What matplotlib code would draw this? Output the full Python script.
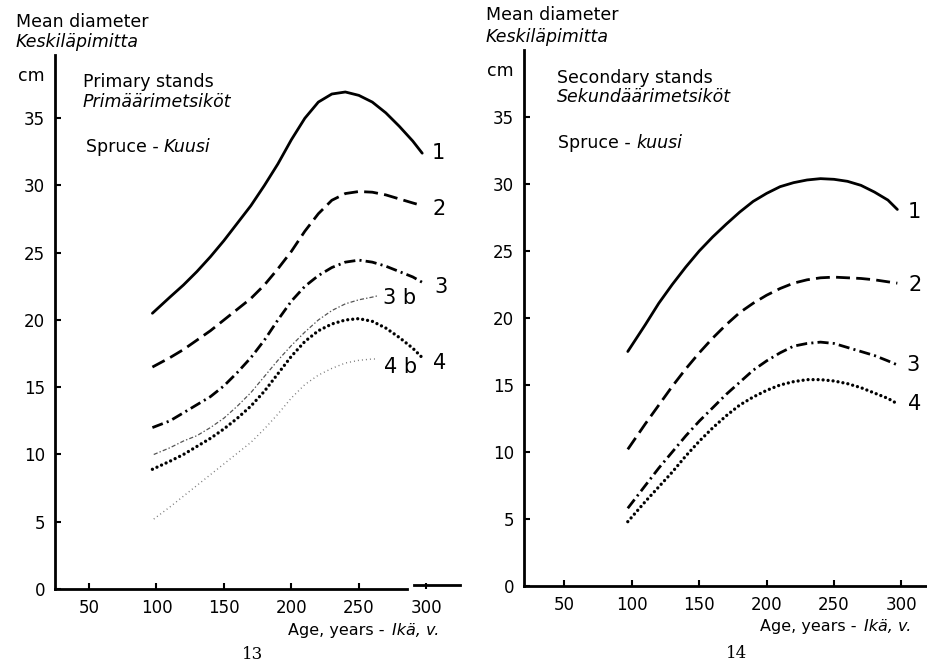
import numpy as np
import matplotlib
matplotlib.use('Agg')
import matplotlib.pyplot as plt

plt.rcParams['font.family'] = ['DejaVu Sans']
plt.rcParams['lines.scale_dashes'] = False

# ---- data (age in years, mean diameter in cm) ----
ages = [97, 110, 120, 130, 140, 150, 160, 170, 180, 190, 200,
        210, 220, 230, 240, 250, 260, 270, 280, 290, 297]

# figure 13, primary stands
prim_1 = [20.5, 21.7, 22.6, 23.6, 24.7, 25.9, 27.2, 28.5, 30.0, 31.6, 33.4,
          35.0, 36.2, 36.8, 36.95, 36.7, 36.2, 35.4, 34.4, 33.3, 32.4]
prim_2 = [16.5, 17.2, 17.8, 18.5, 19.2, 20.0, 20.8, 21.6, 22.6, 23.8, 25.1,
          26.6, 27.9, 28.9, 29.4, 29.55, 29.5, 29.3, 29.0, 28.7, 28.5]
prim_3 = [12.0, 12.5, 13.1, 13.7, 14.3, 15.1, 16.1, 17.2, 18.5, 20.0, 21.4,
          22.5, 23.3, 23.9, 24.3, 24.45, 24.3, 24.0, 23.6, 23.2, 22.8]
prim_4 = [8.9, 9.5, 10.0, 10.6, 11.2, 11.9, 12.7, 13.6, 14.7, 16.0, 17.3,
          18.4, 19.2, 19.7, 20.0, 20.1, 19.9, 19.4, 18.7, 17.9, 17.2]

ages_b = [98, 110, 120, 130, 140, 150, 160, 170, 180, 190, 200,
          210, 220, 230, 240, 250, 260, 264]
prim_3b = [10.0, 10.5, 11.0, 11.4, 12.0, 12.7, 13.6, 14.6, 15.8, 17.0, 18.1,
           19.1, 20.0, 20.7, 21.2, 21.5, 21.7, 21.8]
prim_4b = [5.2, 6.1, 6.9, 7.7, 8.5, 9.3, 10.1, 10.9, 11.9, 13.0, 14.2,
           15.2, 15.9, 16.4, 16.8, 17.0, 17.1, 17.1]

# figure 14, secondary stands
sec_1 = [17.5, 19.5, 21.1, 22.5, 23.8, 25.0, 26.05, 27.0, 27.9, 28.7, 29.3,
         29.8, 30.1, 30.3, 30.4, 30.35, 30.2, 29.9, 29.4, 28.8, 28.1]
sec_2 = [10.2, 12.1, 13.5, 14.9, 16.2, 17.4, 18.5, 19.5, 20.4, 21.1, 21.7,
         22.2, 22.6, 22.85, 23.0, 23.05, 23.0, 22.95, 22.85, 22.7, 22.6]
sec_3 = [5.8, 7.5, 8.8, 10.0, 11.2, 12.3, 13.3, 14.3, 15.2, 16.1, 16.8,
         17.4, 17.9, 18.1, 18.2, 18.1, 17.8, 17.5, 17.2, 16.8, 16.5]
sec_4 = [4.8, 6.3, 7.4, 8.5, 9.7, 10.8, 11.8, 12.7, 13.5, 14.1, 14.6,
         15.0, 15.25, 15.4, 15.4, 15.3, 15.1, 14.8, 14.4, 14.0, 13.6]

x_ticks = [50, 100, 150, 200, 250, 300]
y_ticks = [0, 5, 10, 15, 20, 25, 30, 35]

W, H = 927, 663
fig = plt.figure(figsize=(W / 100, H / 100), dpi=100)
FS = 12.5


def px_text(x, y, s, **kw):
    """Place figure text with pixel coordinates (origin top-left)."""
    fig.text(x / W, 1 - y / H, s, **kw)


def setup_axes(ax, xlim, ylim):
    ax.set_xlim(*xlim)
    ax.set_ylim(*ylim)
    for side in ('top', 'right'):
        ax.spines[side].set_visible(False)
    for side in ('left', 'bottom'):
        ax.spines[side].set_linewidth(2.0)
    ax.set_xticks(x_ticks)
    ax.set_yticks(y_ticks)
    ax.tick_params(direction='in', length=4, width=1.5, labelsize=12, pad=7)
    ax.patch.set_alpha(0)


styles = {
    '1': dict(color='black', lw=2.0, solid_capstyle='round'),
    '2': dict(color='black', lw=2.0, dashes=(10, 4.5)),
    '3': dict(color='black', lw=2.0, dashes=(8, 3, 1.5, 3)),
    '3b': dict(color='#555555', lw=0.9, dashes=(3, 1.5, 1, 1.5)),
    '4': dict(color='black', lw=2.4, dashes=(0.01, 3.6), dash_capstyle='round'),
    '4b': dict(color='#777777', lw=1.0, dashes=(0.7, 2.2)),
}


def curve(ax, x, y, key, label, dx, dy):
    ax.plot(x, y, **styles[key])
    ax.annotate(label, (x[-1], y[-1]), xytext=(dx, dy),
                textcoords='offset pixels', ha='left', va='center',
                fontsize=15)


# ---- figure 13 ----
ax1 = fig.add_axes([55 / W, 1 - 589 / H, 405 / W, 534 / H])
setup_axes(ax1, (24.8, 325), (0, 39.7))
ax1.spines['bottom'].set_bounds(24.8, 286)
ax1.plot([291, 325], [0.3, 0.3], color='black', lw=2.0, clip_on=False)

curve(ax1, ages, prim_1, '1', '1', 9, 0)
curve(ax1, ages, prim_2, '2', '2', 10, -3)
curve(ax1, ages, prim_3, '3', '3', 12, -5)
curve(ax1, ages_b, prim_3b, '3b', '3 b', 5, -2)
curve(ax1, ages, prim_4, '4', '4', 11, -5)
curve(ax1, ages_b, prim_4b, '4b', '4 b', 6, -8)

px_text(16, 27, 'Mean diameter', fontsize=FS)
px_text(16, 47, 'Keskiläpimitta', fontsize=FS, style='italic')
px_text(18, 81, 'cm', fontsize=FS)
px_text(83, 87, 'Primary stands', fontsize=FS)
px_text(83, 107, 'Primäärimetsiköt', fontsize=FS, style='italic')
px_text(86, 152, 'Spruce -', fontsize=FS)
px_text(164, 152, 'Kuusi', fontsize=FS, style='italic')
px_text(288, 635, 'Age, years -', fontsize=11.5)
px_text(392, 635, 'Ikä, v.', fontsize=11.5, style='italic')
px_text(253, 659, '13', fontsize=12, family='DejaVu Serif', ha='center')

# ---- figure 14 ----
ax2 = fig.add_axes([524 / W, 1 - 586 / H, 403 / W, 536 / H])
setup_axes(ax2, (20, 319), (0, 40))

curve(ax2, ages, sec_1, '1', '1', 10, -3)
curve(ax2, ages, sec_2, '2', '2', 11, -2)
curve(ax2, ages, sec_3, '3', '3', 9, 0)
curve(ax2, ages, sec_4, '4', '4', 11, 0)

px_text(486, 20, 'Mean diameter', fontsize=FS)
px_text(486, 42, 'Keskiläpimitta', fontsize=FS, style='italic')
px_text(487, 76, 'cm', fontsize=FS)
px_text(557, 83, 'Secondary stands', fontsize=FS)
px_text(557, 102, 'Sekundäärimetsiköt', fontsize=FS, style='italic')
px_text(558, 148, 'Spruce -', fontsize=FS)
px_text(636, 148, 'kuusi', fontsize=FS, style='italic')
px_text(760, 631, 'Age, years -', fontsize=11.5)
px_text(864, 631, 'Ikä, v.', fontsize=11.5, style='italic')
px_text(737, 658, '14', fontsize=12, family='DejaVu Serif', ha='center')

fig.savefig('out.png', dpi=100)
